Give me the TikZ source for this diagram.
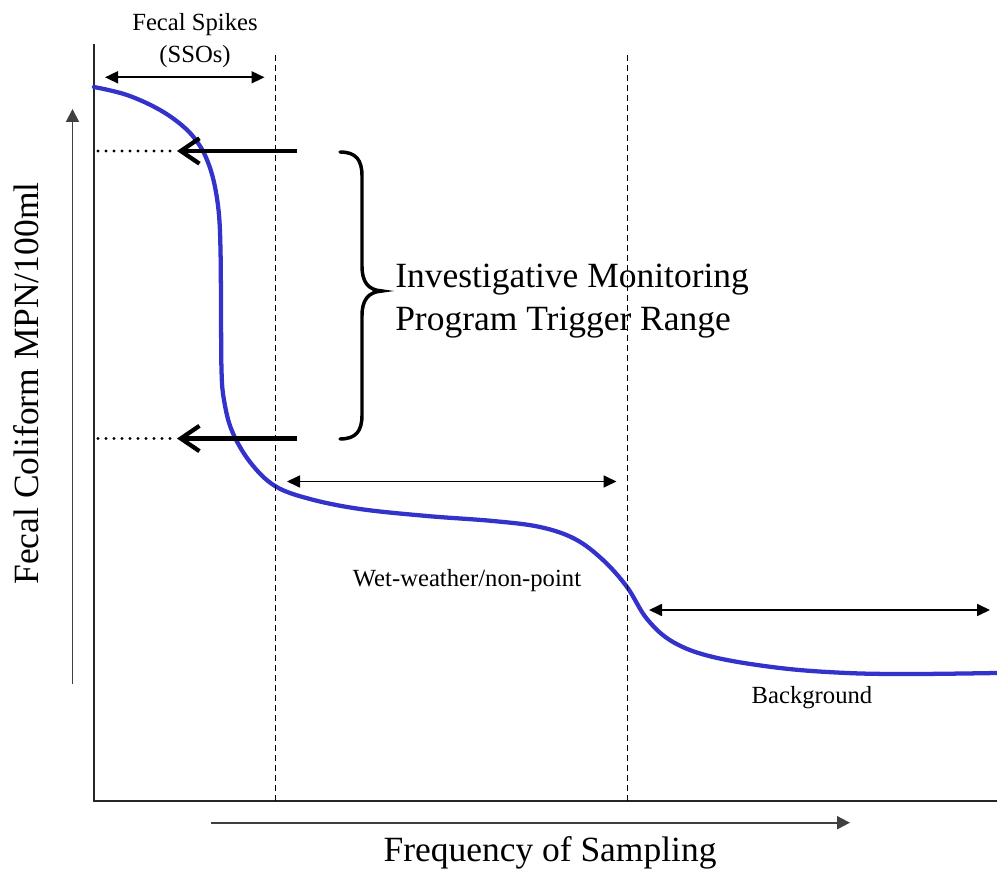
\documentclass[tikz,border=0pt]{standalone}
\usepackage{fontspec}
\setmainfont{Liberation Serif}
\usetikzlibrary{arrows.meta}
\definecolor{curveblue}{RGB}{51,51,204}
\begin{document}
\begin{tikzpicture}[x=0.75pt,y=-0.75pt,
  axis/.style={line width=1.1pt, black!85},
  guide/.style={line width=0.75pt, dash pattern=on 4.5pt off 3pt},
  span/.style={line width=1.3pt, {Triangle[length=9.75pt,width=9pt]}-{Triangle[length=9.75pt,width=9pt]}},
  dirarrow/.style={line width=1.4pt, black!75, -{Triangle[length=9.75pt,width=9.75pt]}},
  trigger/.style={line width=3.2pt, -{Straight Barb[length=14pt,width=19pt,line width=3.2pt]}},
  dots/.style={line width=2.4pt, line cap=round, dash pattern=on 0pt off 6pt},
  brace/.style={line width=2.6pt, line cap=round},
  small/.style={font=\fontsize{18.5}{20}\selectfont, inner sep=0pt},
  big/.style={font=\fontsize{26.6}{30}\selectfont, inner sep=0pt}]
\useasboundingbox (0,0) rectangle (997,877);

% frame of the plot
\coordinate (ytop) at (94,44);
\coordinate (origin) at (94,801);
\coordinate (xend) at (997,801);
\draw[axis] (ytop) -- (origin) -- (xend);

% source curve
\draw[curveblue, line width=3.2pt, line cap=round] plot[smooth, tension=0.6] coordinates {
  (94,87) (127,95) (160,110) (185,128) (200,146) (209,165) (215,187) (219,215)
  (220.5,250) (221,300) (221.5,370) (224,400) (232,431) (250,462) (275,486)
  (310,499) (360,509) (427,516) (493,521) (540,527) (575,539) (603,560)
  (627,587) (647,619) (673,642) (713,657) (780,668) (847,673) (913,674) (997,673)};

% region boundaries
\coordinate (d1top) at (275.5,55);
\coordinate (d1bot) at (275.5,801);
\coordinate (d2top) at (627,55);
\coordinate (d2bot) at (627,801);
\draw[guide] (d1top) -- (d1bot);
\draw[guide] (d2top) -- (d2bot);

% region spans
\coordinate (fs1) at (105,77.3);
\coordinate (fs2) at (264.5,77.3);
\draw[span] (fs1) -- (fs2);
\coordinate (ww1) at (287,481.5);
\coordinate (ww2) at (616.5,481.5);
\draw[span] (ww1) -- (ww2);
\coordinate (bg1) at (649,610);
\coordinate (bg2) at (990,610);
\draw[span] (bg1) -- (bg2);

% direction arrows of the axes
\coordinate (ya1) at (72.5,684);
\coordinate (ya2) at (72.5,109);
\draw[dirarrow] (ya1) -- (ya2);
\coordinate (xa1) at (211,822.7);
\coordinate (xa2) at (850,822.7);
\draw[dirarrow] (xa1) -- (xa2);

% trigger range markers
\coordinate (t1s) at (297,151);
\coordinate (t1e) at (177,151);
\coordinate (t1d) at (98,151);
\draw[trigger] (t1s) -- (t1e);
\draw[dots] (t1d) -- (t1e);
\coordinate (t2s) at (297,438.5);
\coordinate (t2e) at (177,438.5);
\coordinate (t2d) at (98,438.5);
\draw[trigger] (t2s) -- (t2e);
\draw[dots] (t2d) -- (t2e);

% brace
\coordinate (brtop) at (340,152);
\coordinate (brtip) at (382,291);
\coordinate (brbot) at (340,439);
\draw[brace] (brtop) .. controls (356,152) and (362,160) .. (362,176)
  -- (362,266) .. controls (362,282) and (368,290) .. (brtip)
  .. controls (368,292) and (362,300) .. (362,316)
  -- (362,415) .. controls (362,431) and (356,439) .. (brbot);

% labels
\node[small, anchor=base] (fecal) at (195,30.7) {Fecal Spikes};
\node[small, anchor=base] (sso) at (195,62.5) {(SSOs)};
\node[big, anchor=base west] (inv1) at (395,288) {Investigative Monitoring};
\node[big, anchor=base west] (inv2) at (395,331) {Program Trigger Range};
\node[small, anchor=base] (wet) at (467,586) {Wet-weather/non-point};
\node[small, anchor=base] (bgtext) at (812,703) {Background};
\node[big, anchor=base] (freq) at (550,861) {Frequency of Sampling};
\node[big, anchor=base, rotate=90] (fc) at (38.5,383.5) {Fecal Coliform MPN/100ml};
\end{tikzpicture}
\end{document}
